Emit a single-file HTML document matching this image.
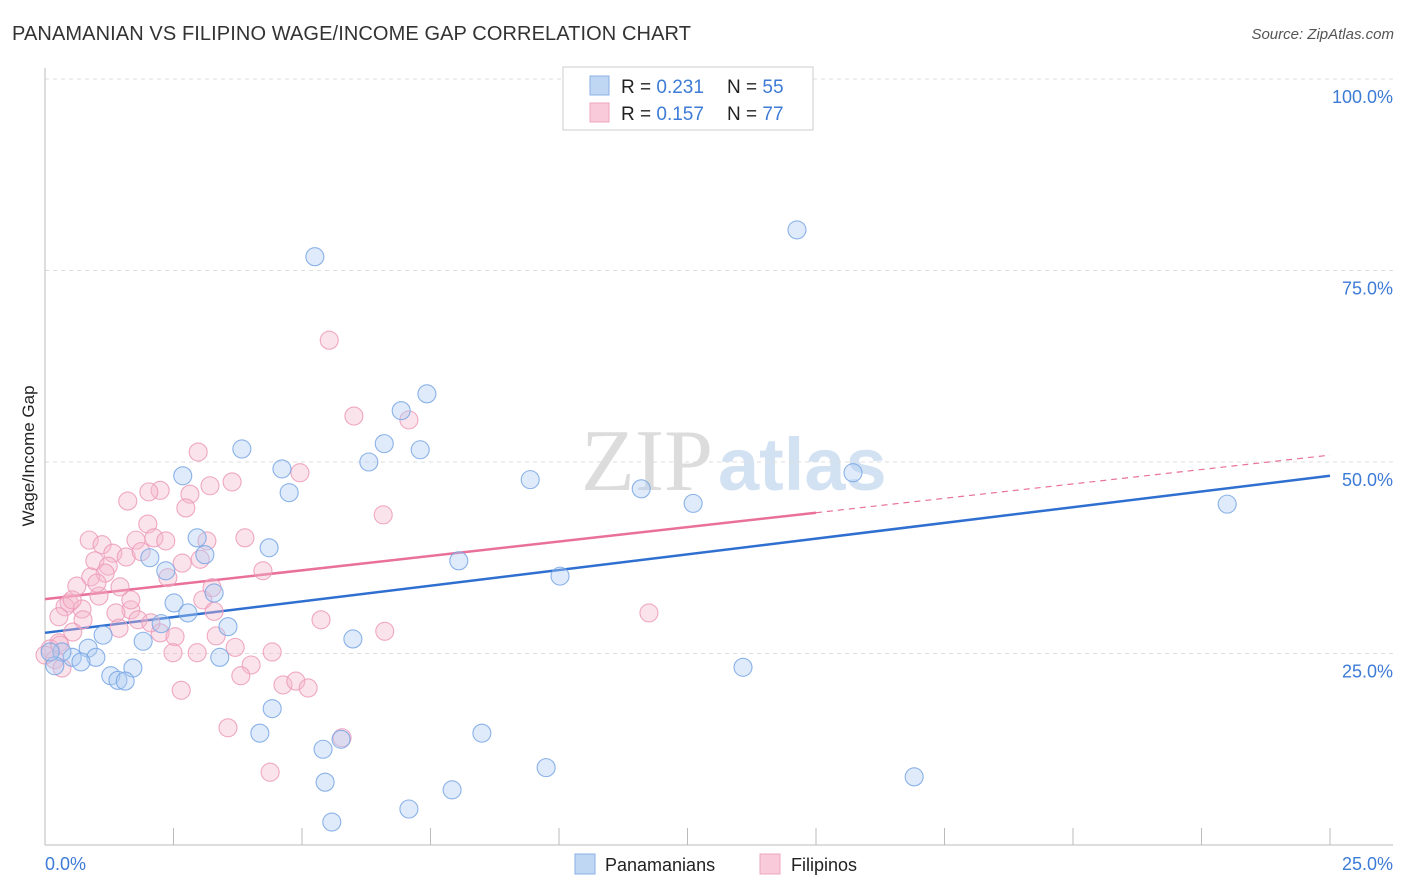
<!DOCTYPE html>
<html><head><meta charset="utf-8"><style>
body{margin:0;background:#fff;font-family:"Liberation Sans",sans-serif;}
svg{display:block}
</style></head><body>
<svg id="chart" width="1406" height="892" xmlns="http://www.w3.org/2000/svg">
<text x="12" y="40" font-size="20" fill="#333" letter-spacing="0.1">PANAMANIAN VS FILIPINO WAGE/INCOME GAP CORRELATION CHART</text>
<text x="1394" y="39" font-size="15" fill="#555" font-style="italic" text-anchor="end">Source: ZipAtlas.com</text>
<text x="713" y="490" font-size="88" fill="#dcdcdc" text-anchor="end" font-family="Liberation Serif,serif">ZIP</text>
<text x="718" y="490" font-size="74" fill="#d3e2f3" font-weight="bold">atlas</text>
<g id="grid"></g>
<line x1="45" y1="68" x2="45" y2="845" stroke="#bbb"/>
<line x1="45" y1="845" x2="1393" y2="845" stroke="#bbb"/>
<g id="ticks"></g>
<text transform="translate(34,456) rotate(-90)" font-size="17" fill="#222" text-anchor="middle">Wage/Income Gap</text>
<text x="45" y="870" font-size="18" fill="#3d7bd6">0.0%</text>
<text x="1393" y="870" font-size="18" fill="#3d7bd6" text-anchor="end">25.0%</text>
<g id="lines"></g>
<g id="points"></g>
<g>
<rect x="563" y="67" width="250" height="63" fill="#fff" stroke="#ccc"/>
<rect x="590" y="76" width="19" height="19" fill="#c0d7f4" stroke="#8ab0e6"/>
<rect x="590" y="103" width="19" height="19" fill="#f9cad9" stroke="#eea6c0"/>
<text x="621" y="93" font-size="19" fill="#222">R = <tspan fill="#3d7bd6">0.231</tspan><tspan x="727">N = </tspan><tspan fill="#3d7bd6">55</tspan></text>
<text x="621" y="120" font-size="19" fill="#222">R = <tspan fill="#3d7bd6">0.157</tspan><tspan x="727">N = </tspan><tspan fill="#3d7bd6">77</tspan></text>
</g>
<g>
<rect x="575" y="854" width="20" height="20" fill="#c0d7f4" stroke="#8ab0e6"/>
<text x="605" y="871" font-size="18" fill="#222">Panamanians</text>
<rect x="760" y="854" width="20" height="20" fill="#f9cad9" stroke="#eea6c0"/>
<text x="791" y="871" font-size="18" fill="#222">Filipinos</text>
</g>
</svg>
<script>
const yTicks=[25,50,75,100];
const yTickLabels=["25.0%","50.0%","75.0%","100.0%"];
const blueX=[5.25,14.63,7.43,6.93,6.60,7.30,3.83,6.30,2.68,4.61,4.75,9.44,15.72,11.60,12.61,23.0,2.96,3.11,4.36,2.04,8.05,10.02,2.35,3.29,2.51,2.78,3.56,2.26,1.91,1.13,0.84,0.99,0.53,0.70,0.33,0.19,5.99,3.40,1.71,1.28,1.42,1.56,13.58,4.42,4.18,8.50,5.41,5.76,9.75,16.91,5.45,7.92,7.08,5.58,0.10];
const blueY=[76.8,80.3,58.9,56.7,52.4,51.6,51.7,50.0,48.2,49.1,46.0,47.7,48.6,46.5,44.6,44.5,40.1,37.9,38.8,37.5,37.1,35.1,35.8,32.9,31.6,30.3,28.5,28.9,26.6,27.4,25.7,24.5,24.5,23.9,25.2,23.4,26.9,24.5,23.1,22.1,21.5,21.4,23.2,17.8,14.6,14.6,12.5,13.8,10.1,8.9,8.2,7.2,4.7,3.0,25.2];
const pinkX=[5.53,6.01,7.08,2.98,4.96,3.64,2.24,2.02,2.82,1.61,3.21,2.74,6.58,2.00,3.89,0.86,1.11,1.77,2.12,2.35,3.15,1.32,0.97,1.58,1.87,2.67,3.02,1.23,1.17,4.24,0.89,1.46,0.62,2.39,1.05,3.07,0.47,0.72,0.39,1.67,1.38,3.29,0.74,0.27,5.37,11.75,1.44,2.24,2.53,3.33,0.54,6.61,3.70,2.96,2.49,4.42,0.27,0.10,0.19,4.01,4.63,4.88,5.12,2.65,3.56,5.78,4.38,0.33,0.0,1.81,3.25,1.67,1.01,2.06,3.81,0.29,0.53];
const pinkY=[65.9,56.0,55.5,51.3,48.6,47.4,46.3,46.1,45.8,44.9,46.9,44.0,43.1,41.9,40.1,39.8,39.2,39.8,40.1,39.7,39.7,38.1,37.1,37.6,38.3,36.8,37.3,36.4,35.5,35.8,35.0,33.7,33.8,34.9,32.5,32.0,31.6,30.8,31.1,30.7,30.3,30.5,29.4,29.8,29.4,30.3,28.3,27.7,27.2,27.3,27.8,27.9,25.8,25.1,25.1,25.2,26.4,25.6,24.2,23.5,20.9,21.4,20.5,20.2,15.3,14.0,9.5,23.1,24.8,29.4,33.6,32.0,34.2,29.0,22.1,26.1,32.0];
const blueTrend=[27.7,48.2];
const pinkTrend=[32.1,50.9];
const pinkSolidEnd=15.0;
const NS="http://www.w3.org/2000/svg";
const sx=v=>45+v/25*1285;
const sy=v=>845-v/100*766;
function mk(tag,attrs,parent){const e=document.createElementNS(NS,tag);for(const k in attrs)e.setAttribute(k,attrs[k]);parent.appendChild(e);return e;}
const grid=document.getElementById('grid');
yTicks.forEach((t,i)=>{
 const l=mk('line',{x1:45,x2:1393,y1:sy(t),y2:sy(t),stroke:'#ddd','stroke-dasharray':'4,4'},grid);
 
 
 const tx=mk('text',{x:1393,y:sy(t)+24,'font-size':18,fill:'#3d7bd6','text-anchor':'end'},grid);
 tx.textContent=yTickLabels[i];
 
 
});
const ticks=document.getElementById('ticks');
for(let i=1;i<=10;i++){
 const x=sx(i*2.5);
 const t=mk('line',{x1:x,x2:x,y1:828,y2:845,stroke:'#bbb'},ticks);
 
 
}
const pts=document.getElementById('points');
function drawPts(X,Y,fill,stroke,name){
 X.forEach((x,i)=>{
  const c=mk('circle',{cx:sx(x),cy:sy(Y[i]),r:9,fill:fill,'fill-opacity':0.4,stroke:stroke,'stroke-opacity':0.85,'stroke-width':1.1},pts);
  
  
 });
}
drawPts(pinkX,pinkY,'#f6b8cd','#ec9ab9','filipino-point');
drawPts(blueX,blueY,'#b0ccf2','#78a6e4','panamanian-point');
const lines=document.getElementById('lines');
const pv=x=>pinkTrend[0]+(pinkTrend[1]-pinkTrend[0])*x/25;
const bl=mk('line',{x1:sx(0),y1:sy(blueTrend[0]),x2:sx(25),y2:sy(blueTrend[1]),stroke:'#2f6fd0','stroke-width':2.5},lines);


const pl=mk('line',{x1:sx(0),y1:sy(pv(0)),x2:sx(pinkSolidEnd),y2:sy(pv(pinkSolidEnd)),stroke:'#e8709a','stroke-width':2.5},lines);


const pd=mk('line',{x1:sx(pinkSolidEnd),y1:sy(pv(pinkSolidEnd)),x2:sx(25),y2:sy(pv(25)),stroke:'#e8709a','stroke-width':1.2,'stroke-dasharray':'6,5'},lines);


</script>
</body></html>
